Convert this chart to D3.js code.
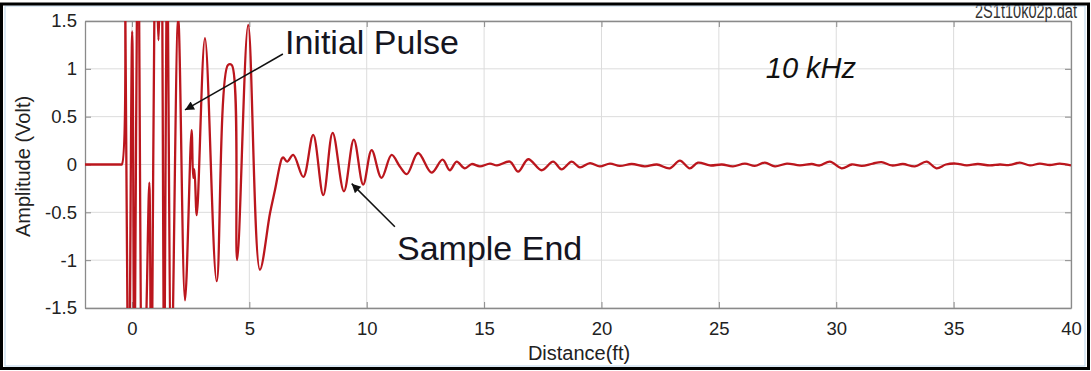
<!DOCTYPE html>
<html><head><meta charset="utf-8">
<script src="https://cdn.jsdelivr.net/npm/d3@7"></script>
<style>html,body{margin:0;padding:0;background:#fff;} svg{display:block;font-family:"Liberation Sans",Arial,sans-serif;}</style>
</head><body><svg id="c" width="1091" height="371"></svg>
<script>
// ---- data ----
const distance = [-2.0,-1.0,-0.5,-0.43,-0.32,-0.15,0.01,0.11,0.25,0.46,0.62,0.74,0.83,1.00,1.13,1.24,1.38,1.49,1.68,1.97,2.26,2.54,2.61,2.66,2.76,3.11,3.61,4.09,4.25,4.48,4.95,5.45,5.88,6.09,6.38,6.44,6.61,6.87,7.30,7.72,8.15,8.55,9.03,9.45,9.85,10.21,10.63,11.06,11.41,11.71,12.19,12.76,13.23,13.54,13.83,14.18,14.47,14.82,15.25,15.55,16.10,16.45,16.88,17.45,17.94,18.30,18.73,19.08,19.51,19.93,20.36,20.78,21.29,21.85,22.36,22.91,23.34,23.76,24.11,24.62,25.13,25.60,26.11,26.53,26.96,27.39,27.90,28.45,28.96,29.30,29.73,30.23,30.66,31.09,31.56,31.93,32.37,32.84,33.35,33.85,34.27,34.67,35.09,35.56,36.03,36.54,36.97,37.39,37.82,38.25,38.67,39.10,39.52,40.0];
const amplitude = [0,0,0,0,3.0,-3.0,1.39,-2.5,3.0,-3.0,-1.5,-0.19,-3.0,3.0,1.3,3.0,-2.5,2.5,-2.2,1.53,-1.42,0.36,-0.14,-0.05,-0.53,1.32,-1.22,1.04,1.04,-1.0,1.46,-1.10,-0.51,-0.27,0.06,0.075,0.03,0.10,-0.13,0.31,-0.32,0.33,-0.28,0.26,-0.21,0.15,-0.14,0.10,-0.02,-0.10,0.12,-0.085,0.05,-0.06,0.03,-0.04,0.005,-0.02,0.01,-0.01,0.03,-0.075,0.055,-0.06,0.03,-0.05,0.03,-0.03,0.015,-0.02,0.01,-0.015,0.005,-0.02,0.0,-0.04,0.04,-0.04,0.02,-0.01,0.0,-0.02,0.01,-0.015,0.02,-0.02,0.01,-0.01,0.005,-0.01,0.03,-0.04,0.0,-0.015,0.01,0.025,-0.01,0.005,-0.02,0.03,-0.04,0.0,0.01,-0.01,0.005,-0.01,0.0,-0.005,0.02,-0.01,0.01,-0.005,0.01,-0.01];
const xTickValues = [0,5,10,15,20,25,30,35,40];
const xTickLabels = ["0","5","10","15","20","25","30","35","40"];
const yTickValues = [-1.5,-1,-0.5,0,0.5,1,1.5];
const yTickLabels = ["-1.5","-1","-0.5","0","0.5","1","1.5"];
const xDomain = [-2, 40];
const yDomain = [-1.5, 1.5];
const xLabel = "Distance(ft)";
const yLabel = "Amplitude (Volt)";
const fileName = "2S1t10k02p.dat";
const freqLabel = "10 kHz";
const annoText = ["Initial Pulse", "Sample End"];
const annoTextPos = [[6.52, 1.15], [11.29, -1.0]];
const arrowFrom = [[6.43, 1.155], [11.2, -0.65]];
const arrowTo = [[2.26, 0.57], [9.36, -0.20]];
const freqPos = [27.0, 0.90];

// ---- layout ----
const L = 85, R = 1071, T = 21, B = 308;
const svg = d3.select("#c");
const x = d3.scaleLinear().domain(xDomain).range([L, R]);
const y = d3.scaleLinear().domain(yDomain).range([B, T]);

svg.append("defs").append("clipPath").attr("id","clip")
  .append("rect").attr("x",L).attr("y",T).attr("width",R-L).attr("height",B-T);
svg.select("defs").append("marker").attr("id","ah").attr("viewBox","0 0 10 10")
  .attr("refX",10).attr("refY",5).attr("markerWidth",12).attr("markerHeight",9)
  .attr("markerUnits","userSpaceOnUse").attr("orient","auto")
  .append("path").attr("d","M0,0 L10,5 L0,10 z").attr("fill","#111");

// grid
const g = svg.append("g");
g.selectAll(".gx").data(xTickValues).join("line")
  .attr("x1",d=>x(d)).attr("x2",d=>x(d)).attr("y1",T).attr("y2",B)
  .attr("stroke","#dcdcdc").attr("stroke-width",1);
g.selectAll(".gy").data(yTickValues).join("line")
  .attr("y1",d=>y(d)).attr("y2",d=>y(d)).attr("x1",L).attr("x2",R)
  .attr("stroke","#dcdcdc").attr("stroke-width",1);

// axes with inward ticks
const axB = svg.append("g").attr("transform",`translate(0,${B})`)
  .call(d3.axisBottom(x).tickValues(xTickValues).tickFormat((d,i)=>xTickLabels[i]).tickSizeInner(-6).tickSizeOuter(0).tickPadding(14));
const axT = svg.append("g").attr("transform",`translate(0,${T})`)
  .call(d3.axisTop(x).tickValues(xTickValues).tickFormat("").tickSizeInner(-6).tickSizeOuter(0));
const axL = svg.append("g").attr("transform",`translate(${L},0)`)
  .call(d3.axisLeft(y).tickValues(yTickValues).tickFormat((d,i)=>yTickLabels[i]).tickSizeInner(-6).tickSizeOuter(0).tickPadding(8));
const axR = svg.append("g").attr("transform",`translate(${R},0)`)
  .call(d3.axisRight(y).tickValues(yTickValues).tickFormat("").tickSizeInner(-6).tickSizeOuter(0));
[axB,axT,axL,axR].forEach(a=>{
  a.select(".domain").attr("stroke","#8a8a8a").attr("stroke-width",1.3);
  a.selectAll(".tick line").attr("stroke","#8a8a8a");
  a.selectAll("text").attr("font-size",18.5).attr("fill","#222").attr("font-family","Liberation Sans, Arial, sans-serif");
});

// waveform
const line = d3.line().x((d,i)=>x(distance[i])).y((d,i)=>y(amplitude[i])).curve(d3.curveCatmullRom.alpha(0.5));
svg.append("path").datum(amplitude).attr("clip-path","url(#clip)")
  .attr("d",line).attr("fill","none").attr("stroke","#bb161d").attr("stroke-width",2.3).attr("stroke-linejoin","round");

// labels
svg.append("text").attr("x",579).attr("y",360).attr("text-anchor","middle")
  .attr("font-size",20).attr("fill","#222").text(xLabel);
svg.append("text").attr("transform",`translate(30,${(T+B)/2+2}) rotate(-90)`).attr("text-anchor","middle")
  .attr("font-size",20).attr("fill","#222").text(yLabel);

// annotations
annoText.forEach((t,i)=>{
  svg.append("text").attr("x",x(annoTextPos[i][0])).attr("y",y(annoTextPos[i][1]))
    .attr("font-size",34).attr("fill","#15151f").text(t);
  svg.append("line").attr("x1",x(arrowFrom[i][0])).attr("y1",y(arrowFrom[i][1]))
    .attr("x2",x(arrowTo[i][0])).attr("y2",y(arrowTo[i][1]))
    .attr("stroke","#111").attr("stroke-width",1.5).attr("marker-end","url(#ah)");
});
svg.append("text").attr("x",x(freqPos[0])).attr("y",y(freqPos[1]))
  .attr("font-size",29).attr("font-style","italic").attr("fill","#111").text(freqLabel);

// file name (cut at top as in the reference)
svg.append("text").attr("x",1077).attr("y",18).attr("text-anchor","end")
  .attr("font-size",20).attr("fill","#333").attr("textLength",102).attr("lengthAdjust","spacingAndGlyphs").text(fileName);

// frame
svg.append("rect").attr("x",5).attr("y",6).attr("width",1080).attr("height",360)
  .attr("fill","none").attr("stroke","#b9d3ea").attr("stroke-width",1);
svg.append("rect").attr("x",1.5).attr("y",4).attr("width",1087).attr("height",364.5)
  .attr("fill","none").attr("stroke","#000").attr("stroke-width",3);
</script></body></html>
